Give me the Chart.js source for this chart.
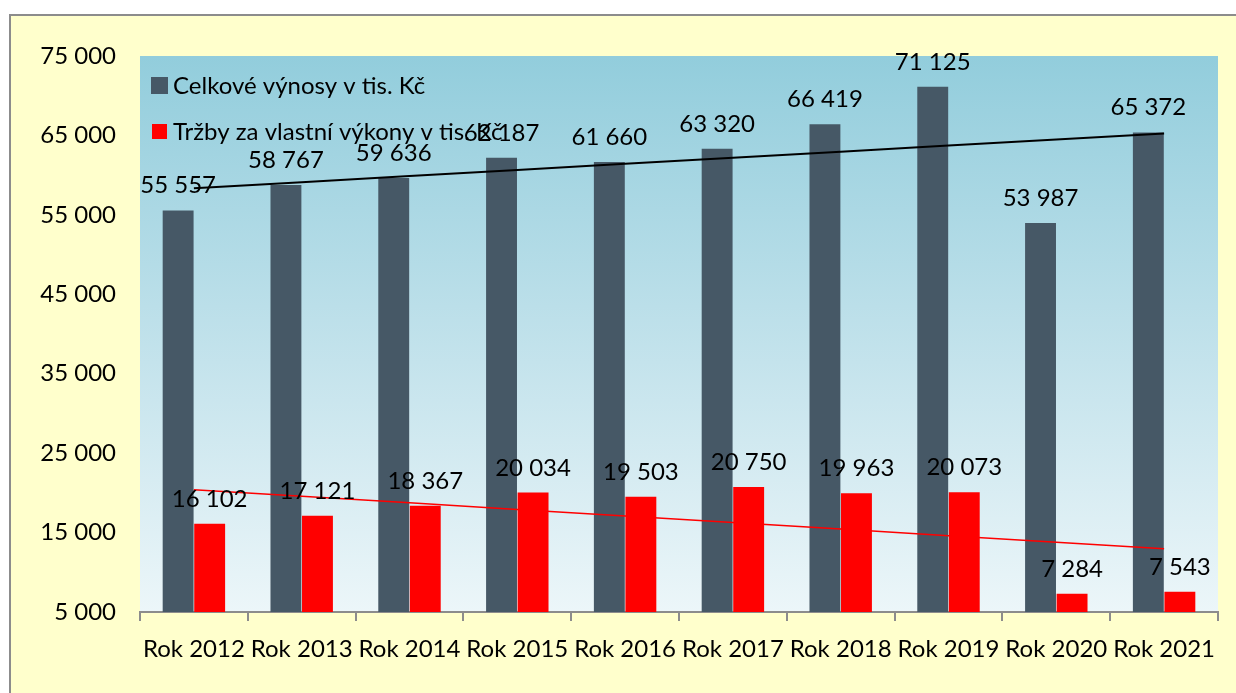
<!DOCTYPE html>
<html>
<head>
<meta charset="utf-8">
<script src="https://cdn.jsdelivr.net/npm/chart.js@4.4.0/dist/chart.umd.min.js"></script>
<style>
  html, body { margin: 0; padding: 0; background: #fff; overflow: hidden; }
  #frame { position: absolute; left: 9px; top: 14px; width: 1240px; height: 700px;
           background: #FFFFCC; border-left: 2px solid #8c8c8c; border-top: 2px solid #8c8c8c; }
  #myChart { position: absolute; left: 0; top: 0; }
</style>
</head>
<body>
<div id="frame"></div>
<canvas id="myChart" width="1236" height="693"></canvas>
<script>
const years = ["Rok 2012", "Rok 2013", "Rok 2014", "Rok 2015", "Rok 2016", "Rok 2017", "Rok 2018", "Rok 2019", "Rok 2020", "Rok 2021"];
const vynosy = [55557, 58767, 59636, 62187, 61660, 63320, 66419, 71125, 53987, 65372];
const trzby = [16102, 17121, 18367, 20034, 19503, 20750, 19963, 20073, 7284, 7543];
const seriesNames = ["Celkové výnosy v tis. Kč", "Tržby za vlastní výkony v tis. Kč"];
const yTicks = { min: 5000, max: 75000, step: 10000 };

const darkColor = "#465866";
const redColor = "#FF0000";
const fontFamily = "Lato, 'Liberation Sans', sans-serif";
const fontSize = 24;

// linear trend (least squares), like the excel trendline
function trend(vals) {
  const n = vals.length;
  let sx = 0, sy = 0, sxy = 0, sxx = 0;
  vals.forEach((v, i) => { sx += i; sy += v; sxy += i * v; sxx += i * i; });
  const b = (n * sxy - sx * sy) / (n * sxx - sx * sx);
  const a = (sy - b * sx) / n;
  return vals.map((v, i) => a + b * i);
}

function fmt(v) {
  return String(Math.round(v)).replace(/\B(?=(\d{3})+(?!\d))/g, " ");
}

const bgPlugin = {
  id: 'plotBg',
  beforeDraw(chart) {
    const { ctx, chartArea: a } = chart;
    const g = ctx.createLinearGradient(0, a.top, 0, a.bottom);
    g.addColorStop(0, "#92CDDC");
    g.addColorStop(0.55, "#C4E3EC");
    g.addColorStop(1, "#ECF6F9");
    ctx.save();
    ctx.fillStyle = g;
    ctx.fillRect(a.left, a.top, a.right - a.left, a.bottom - a.top);
    ctx.restore();
  }
};

const labelPlugin = {
  id: 'labels',
  afterDatasetsDraw(chart) {
    const ctx = chart.ctx;
    const a = chart.chartArea;
    ctx.save();
    ctx.font = fontSize + "px " + fontFamily;
    // legend inside plot
    ctx.fillStyle = darkColor;
    ctx.fillRect(a.left + 11, 77, 17, 17);
    ctx.fillStyle = redColor;
    ctx.fillRect(a.left + 12, 124, 15, 15);
    ctx.fillStyle = "#000";
    ctx.textBaseline = "middle";
    ctx.textAlign = "left";
    ctx.fillText(seriesNames[0], a.left + 33, 86);
    ctx.fillText(seriesNames[1], a.left + 33, 132);
    // value labels
    ctx.textAlign = "center";
    ctx.textBaseline = "alphabetic";
    [0, 1].forEach(di => {
      const meta = chart.getDatasetMeta(di);
      const vals = chart.data.datasets[di].data;
      meta.data.forEach((bar, i) => {
        ctx.fillText(fmt(vals[i]), bar.x, bar.y - 17);
      });
    });
    ctx.restore();
  }
};

const ctx = document.getElementById('myChart');

const data = {
  labels: years,
  datasets: [{
    label: seriesNames[0],
    data: vynosy,
    backgroundColor: darkColor,
    order: 2
  }, {
    label: seriesNames[1],
    data: trzby,
    backgroundColor: redColor,
    order: 2
  }, {
    type: 'line',
    label: 'trend 1',
    data: trend(vynosy),
    borderColor: "#000",
    borderWidth: 2,
    pointRadius: 0,
    order: 1
  }, {
    type: 'line',
    label: 'trend 2',
    data: trend(trzby),
    borderColor: redColor,
    borderWidth: 1.5,
    pointRadius: 0,
    order: 1
  }]
};

const config = {
  type: 'bar',
  data: data,
  plugins: [bgPlugin, labelPlugin],
  options: {
    responsive: false,
    devicePixelRatio: 1,
    animation: false,
    categoryPercentage: 0.585,
    barPercentage: 0.98,
    layout: { padding: { top: 56, right: 18, left: 0, bottom: 0 } },
    plugins: {
      legend: { display: false },
      tooltip: { enabled: false }
    },
    scales: {
      x: {
        grid: { display: true, drawOnChartArea: false, drawTicks: true, tickLength: 9, color: "#8c8c8c", lineWidth: 2 },
        border: { display: true, color: "#8c8c8c", width: 2 },
        ticks: { color: "#000", font: { family: fontFamily, size: fontSize }, padding: 14, maxRotation: 0 },
        afterFit(s) { s.height = 81; }
      },
      y: {
        min: yTicks.min,
        max: yTicks.max,
        grid: { display: false },
        border: { display: false },
        ticks: {
          stepSize: yTicks.step,
          color: "#000",
          font: { family: fontFamily, size: fontSize },
          padding: 16,
          callback: v => fmt(v)
        },
        afterFit(s) { s.width = 140; }
      }
    }
  }
};

let myChart = new Chart(ctx, config);
</script>
</body>
</html>
